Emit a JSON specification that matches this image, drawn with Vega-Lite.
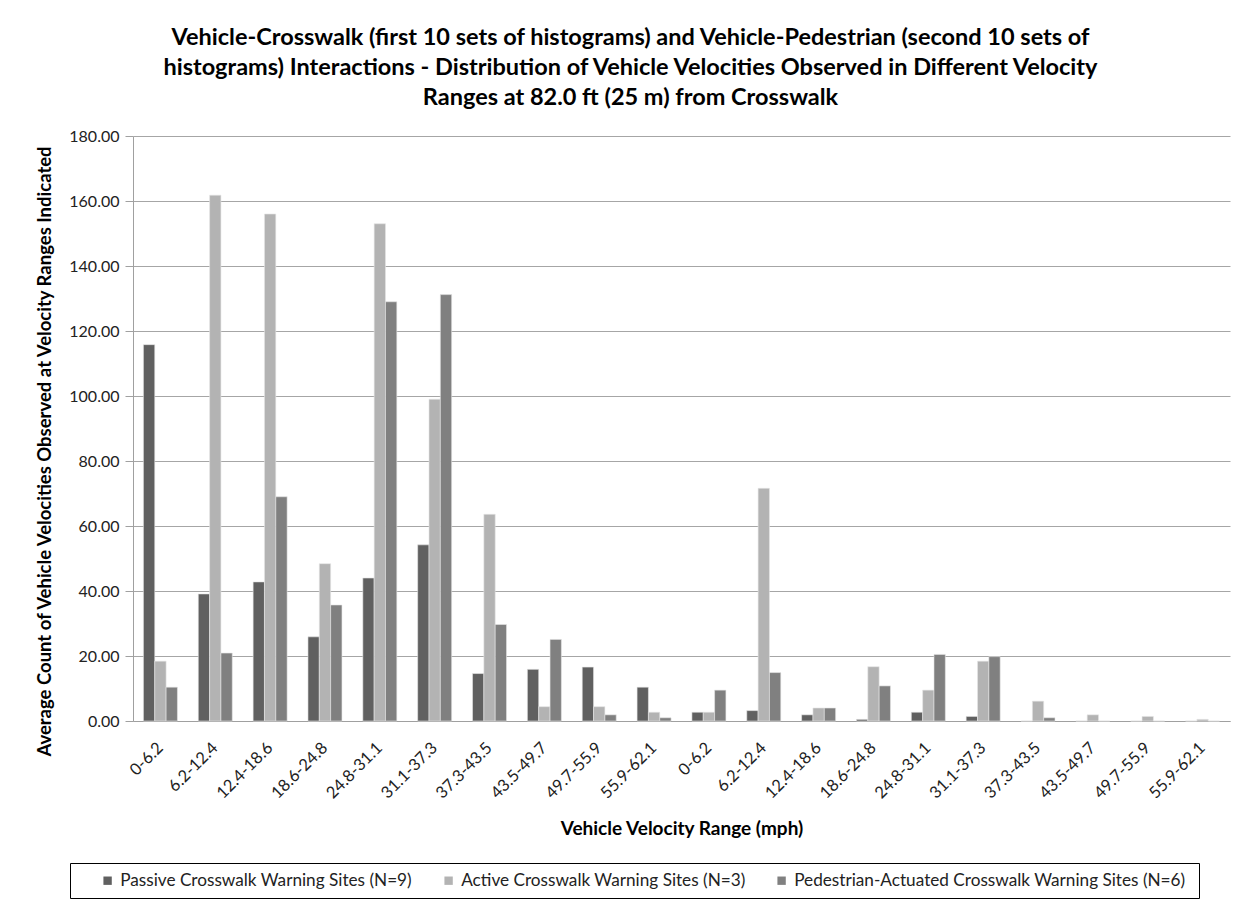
{
  "$schema": "https://vega.github.io/schema/vega-lite/v6.json",
  "autosize": "none",
  "width": 1097,
  "height": 585,
  "padding": {"left": 133, "top": 136, "right": 19, "bottom": 184},
  "background": "white",
  "config": {"view": {"stroke": null}, "font": "Lato"},
  "title": {
    "text": [
      "Vehicle-Crosswalk (first 10 sets of histograms) and Vehicle-Pedestrian (second 10 sets of",
      "histograms) Interactions - Distribution of Vehicle Velocities Observed in Different Velocity",
      "Ranges at 82.0 ft (25 m) from Crosswalk"
    ],
    "font": "Lato",
    "fontSize": 23.5,
    "fontWeight": "bold",
    "color": "black",
    "anchor": "middle",
    "lineHeight": 30,
    "offset": 19,
    "dx": -51
  },
  "data": {
    "values": [
      {"i": 1, "series": "Passive Crosswalk  Warning Sites (N=9)", "value": 115.8},
      {"i": 1, "series": "Active Crosswalk  Warning Sites (N=3)", "value": 18.4},
      {"i": 1, "series": "Pedestrian-Actuated Crosswalk  Warning Sites (N=6)", "value": 10.4},
      {"i": 2, "series": "Passive Crosswalk  Warning Sites (N=9)", "value": 39.1},
      {"i": 2, "series": "Active Crosswalk  Warning Sites (N=3)", "value": 161.8},
      {"i": 2, "series": "Pedestrian-Actuated Crosswalk  Warning Sites (N=6)", "value": 20.9},
      {"i": 3, "series": "Passive Crosswalk  Warning Sites (N=9)", "value": 42.8},
      {"i": 3, "series": "Active Crosswalk  Warning Sites (N=3)", "value": 156.0},
      {"i": 3, "series": "Pedestrian-Actuated Crosswalk  Warning Sites (N=6)", "value": 69.0},
      {"i": 4, "series": "Passive Crosswalk  Warning Sites (N=9)", "value": 25.9},
      {"i": 4, "series": "Active Crosswalk  Warning Sites (N=3)", "value": 48.4},
      {"i": 4, "series": "Pedestrian-Actuated Crosswalk  Warning Sites (N=6)", "value": 35.7},
      {"i": 5, "series": "Passive Crosswalk  Warning Sites (N=9)", "value": 44.0},
      {"i": 5, "series": "Active Crosswalk  Warning Sites (N=3)", "value": 153.0},
      {"i": 5, "series": "Pedestrian-Actuated Crosswalk  Warning Sites (N=6)", "value": 129.0},
      {"i": 6, "series": "Passive Crosswalk  Warning Sites (N=9)", "value": 54.2},
      {"i": 6, "series": "Active Crosswalk  Warning Sites (N=3)", "value": 99.0},
      {"i": 6, "series": "Pedestrian-Actuated Crosswalk  Warning Sites (N=6)", "value": 131.2},
      {"i": 7, "series": "Passive Crosswalk  Warning Sites (N=9)", "value": 14.6},
      {"i": 7, "series": "Active Crosswalk  Warning Sites (N=3)", "value": 63.6},
      {"i": 7, "series": "Pedestrian-Actuated Crosswalk  Warning Sites (N=6)", "value": 29.7},
      {"i": 8, "series": "Passive Crosswalk  Warning Sites (N=9)", "value": 15.9},
      {"i": 8, "series": "Active Crosswalk  Warning Sites (N=3)", "value": 4.4},
      {"i": 8, "series": "Pedestrian-Actuated Crosswalk  Warning Sites (N=6)", "value": 25.1},
      {"i": 9, "series": "Passive Crosswalk  Warning Sites (N=9)", "value": 16.6},
      {"i": 9, "series": "Active Crosswalk  Warning Sites (N=3)", "value": 4.4},
      {"i": 9, "series": "Pedestrian-Actuated Crosswalk  Warning Sites (N=6)", "value": 1.9},
      {"i": 10, "series": "Passive Crosswalk  Warning Sites (N=9)", "value": 10.4},
      {"i": 10, "series": "Active Crosswalk  Warning Sites (N=3)", "value": 2.7},
      {"i": 10, "series": "Pedestrian-Actuated Crosswalk  Warning Sites (N=6)", "value": 1.0},
      {"i": 11, "series": "Passive Crosswalk  Warning Sites (N=9)", "value": 2.7},
      {"i": 11, "series": "Active Crosswalk  Warning Sites (N=3)", "value": 2.7},
      {"i": 11, "series": "Pedestrian-Actuated Crosswalk  Warning Sites (N=6)", "value": 9.5},
      {"i": 12, "series": "Passive Crosswalk  Warning Sites (N=9)", "value": 3.2},
      {"i": 12, "series": "Active Crosswalk  Warning Sites (N=3)", "value": 71.6},
      {"i": 12, "series": "Pedestrian-Actuated Crosswalk  Warning Sites (N=6)", "value": 14.9},
      {"i": 13, "series": "Passive Crosswalk  Warning Sites (N=9)", "value": 1.9},
      {"i": 13, "series": "Active Crosswalk  Warning Sites (N=3)", "value": 4.0},
      {"i": 13, "series": "Pedestrian-Actuated Crosswalk  Warning Sites (N=6)", "value": 4.0},
      {"i": 14, "series": "Passive Crosswalk  Warning Sites (N=9)", "value": 0.5},
      {"i": 14, "series": "Active Crosswalk  Warning Sites (N=3)", "value": 16.7},
      {"i": 14, "series": "Pedestrian-Actuated Crosswalk  Warning Sites (N=6)", "value": 10.8},
      {"i": 15, "series": "Passive Crosswalk  Warning Sites (N=9)", "value": 2.7},
      {"i": 15, "series": "Active Crosswalk  Warning Sites (N=3)", "value": 9.5},
      {"i": 15, "series": "Pedestrian-Actuated Crosswalk  Warning Sites (N=6)", "value": 20.5},
      {"i": 16, "series": "Passive Crosswalk  Warning Sites (N=9)", "value": 1.4},
      {"i": 16, "series": "Active Crosswalk  Warning Sites (N=3)", "value": 18.4},
      {"i": 16, "series": "Pedestrian-Actuated Crosswalk  Warning Sites (N=6)", "value": 19.8},
      {"i": 17, "series": "Passive Crosswalk  Warning Sites (N=9)", "value": 0.0},
      {"i": 17, "series": "Active Crosswalk  Warning Sites (N=3)", "value": 6.1},
      {"i": 17, "series": "Pedestrian-Actuated Crosswalk  Warning Sites (N=6)", "value": 1.0},
      {"i": 18, "series": "Passive Crosswalk  Warning Sites (N=9)", "value": 0.0},
      {"i": 18, "series": "Active Crosswalk  Warning Sites (N=3)", "value": 1.9},
      {"i": 18, "series": "Pedestrian-Actuated Crosswalk  Warning Sites (N=6)", "value": 0.0},
      {"i": 19, "series": "Passive Crosswalk  Warning Sites (N=9)", "value": 0.0},
      {"i": 19, "series": "Active Crosswalk  Warning Sites (N=3)", "value": 1.4},
      {"i": 19, "series": "Pedestrian-Actuated Crosswalk  Warning Sites (N=6)", "value": 0.0},
      {"i": 20, "series": "Passive Crosswalk  Warning Sites (N=9)", "value": 0.0},
      {"i": 20, "series": "Active Crosswalk  Warning Sites (N=3)", "value": 0.5},
      {"i": 20, "series": "Pedestrian-Actuated Crosswalk  Warning Sites (N=6)", "value": 0.0}
    ]
  },
  "mark": {"type": "bar", "stroke": "#e6e6e6", "strokeWidth": 0.6},
  "encoding": {
    "x": {
      "field": "i",
      "type": "ordinal",
      "scale": {"paddingInner": 0.38, "paddingOuter": 0.19},
      "axis": {
        "title": "Vehicle Velocity Range (mph)",
        "titleFont": "Lato",
        "titleFontSize": 19,
        "titleFontWeight": "bold",
        "titleColor": "black",
        "titlePadding": 18,
        "labelExpr": "['0-6.2','6.2-12.4','12.4-18.6','18.6-24.8','24.8-31.1','31.1-37.3','37.3-43.5','43.5-49.7','49.7-55.9','55.9-62.1'][(datum.value - 1) % 10]",
        "labelAngle": -45,
        "labelAlign": "right",
        "labelBaseline": "middle",
        "labelFont": "Lato",
        "labelFontSize": 16.5,
        "labelColor": "#222222",
        "labelPadding": 24,
        "domainColor": "#a0a0a0",
        "ticks": false
      }
    },
    "xOffset": {
      "field": "series",
      "type": "nominal",
      "sort": ["Passive Crosswalk  Warning Sites (N=9)", "Active Crosswalk  Warning Sites (N=3)", "Pedestrian-Actuated Crosswalk  Warning Sites (N=6)"],
      "scale": {"paddingInner": 0, "paddingOuter": 0}
    },
    "y": {
      "field": "value",
      "type": "quantitative",
      "scale": {"domain": [0, 180], "nice": false},
      "axis": {
        "title": "Average Count of Vehicle Velocities Observed at Velocity Ranges Indicated",
        "titleFont": "Lato",
        "titleFontSize": 18.5,
        "titleFontWeight": "bold",
        "titleColor": "black",
        "titlePadding": 14,
        "titleY": 315,
        "values": [0, 20, 40, 60, 80, 100, 120, 140, 160, 180],
        "format": ".2f",
        "labelFont": "Lato",
        "labelFontSize": 16,
        "labelColor": "#222222",
        "labelPadding": 6,
        "grid": true,
        "gridColor": "#a6a6a6",
        "gridWidth": 1,
        "domainColor": "#a0a0a0",
        "tickColor": "#a0a0a0",
        "tickSize": 8
      }
    },
    "color": {
      "field": "series",
      "type": "nominal",
      "scale": {
        "domain": ["Passive Crosswalk  Warning Sites (N=9)", "Active Crosswalk  Warning Sites (N=3)", "Pedestrian-Actuated Crosswalk  Warning Sites (N=6)"],
        "range": ["#606060", "#b3b3b3", "#808080"]
      },
      "legend": {
        "title": null,
        "orient": "none",
        "legendX": -63,
        "legendY": 727,
        "direction": "horizontal",
        "strokeColor": "black",
        "fillColor": "white",
        "padding": 9,
        "symbolType": "square",
        "symbolSize": 70,
        "symbolStrokeWidth": 0,
        "labelFont": "Lato",
        "labelFontSize": 17.2,
        "labelColor": "#222222",
        "labelLimit": 500,
        "columnPadding": 3,
        "symbolOffset": 20
      }
    }
  }
}
